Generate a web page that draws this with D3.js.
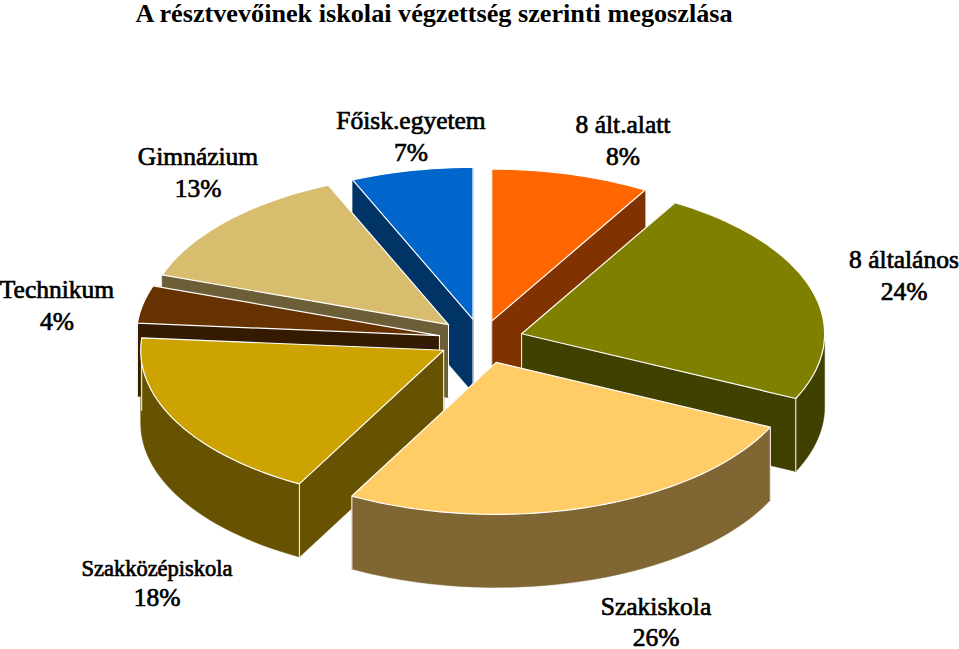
<!DOCTYPE html>
<html><head><meta charset="utf-8">
<script src="https://cdn.jsdelivr.net/npm/d3@7"></script>
<style>html,body{margin:0;padding:0;background:#fff}svg{display:block}
text{font-family:"Liberation Serif",serif;fill:#000}</style></head>
<body><svg id="c" width="959" height="649"></svg>
<script>
const titleText = "A résztvevőinek iskolai végzettség szerinti megoszlása";
const categories = ["8 ált.alatt","8 általános","Szakiskola","Szakközépiskola","Technikum","Gimnázium","Főisk.egyetem"];
const values = [8.45,23.55,25.9,18.4,4,13.2,6.5];
const topColors = ["#FF6600","#808000","#FFCC66","#CCA300","#663300","#D9BD6E","#0066CC"];
const wallColors = ["#803300","#404000","#806633","#665200","#331A00","#6C5E37","#003366"];
const explode = [39,42,47,43,43,45,42];
const paintOrder = [6,0,5,4,1,3,2];
const labelPos = [[623,125,157],[904,260,292],[656,607,638],[157,568,598],[57,290,322],[198,157,189],[411,121,153]];
const labelSize = [25.5,25.5,25.5,22.5,25.5,25.5,25.5];

const cx=481.5, cy=340, rx=303, ry=152, depth=73;
const svg=d3.select("#c");
const arcs=d3.pie().sort(null).value(d=>d)(values);
const line=d3.line();
const pt=(o,a,dy=0)=>[o[0]+rx*Math.sin(a), o[1]-ry*Math.cos(a)+dy];
const step=Math.PI/90;
const angles=(a,b)=>{const n=Math.max(2,Math.ceil((b-a)/step));return d3.range(n+1).map(i=>a+(b-a)*i/n);};

paintOrder.forEach(i=>{
  const s=arcs[i], mid=(s.startAngle+s.endAngle)/2;
  const o=[cx+explode[i]*Math.sin(mid), cy-explode[i]*ry/rx*Math.cos(mid)];
  const g=svg.append("g");
  const wall=d=>g.append("path").attr("d",d).attr("fill",wallColors[i]).attr("stroke",wallColors[i]).attr("stroke-width",0.5);
  [s.startAngle,s.endAngle].forEach(a=>{
    wall(line([o,pt(o,a),pt(o,a,depth),[o[0],o[1]+depth]])+"Z");
  });
  const lo=Math.max(s.startAngle,Math.PI/2), hi=Math.min(s.endAngle,3*Math.PI/2);
  if(hi>lo){
    const as=angles(lo,hi);
    wall(line(as.map(a=>pt(o,a)).concat(as.slice().reverse().map(a=>pt(o,a,depth))))+"Z");
  }
  [s.startAngle,s.endAngle].forEach(a=>{
    if(Math.cos(a)<0.2){
      const p=pt(o,a);
      g.append("path").attr("d",line([p,[p[0],p[1]+depth]])).attr("stroke","#fff").attr("stroke-width",1).attr("fill","none");
    }
  });
  g.append("path").attr("d",line([o,[o[0],o[1]+depth]])).attr("stroke","#fff").attr("stroke-width",1).attr("fill","none");
  const as=angles(s.startAngle,s.endAngle);
  g.append("path").attr("d",line([o].concat(as.map(a=>pt(o,a))))+"Z")
    .attr("fill",topColors[i]).attr("stroke","#fff").attr("stroke-width",1.2).attr("stroke-linejoin","round");
});

svg.append("text").attr("x",434).attr("y",22).attr("text-anchor","middle")
  .attr("font-size",26.2).attr("font-weight","bold").text(titleText);
categories.forEach((c,i)=>{
  const [x,y1,y2]=labelPos[i];
  const g=svg.append("g").attr("text-anchor","middle").attr("font-size",labelSize[i]);
  g.append("text").attr("x",x).attr("y",y1+8).text(c).style("stroke","#000").style("stroke-width",0.7);
  g.append("text").attr("x",x).attr("y",y2+8).attr("font-size",25.5).text(Math.round(values[i])+"%").style("stroke","#000").style("stroke-width",0.7);
});
</script></body></html>
